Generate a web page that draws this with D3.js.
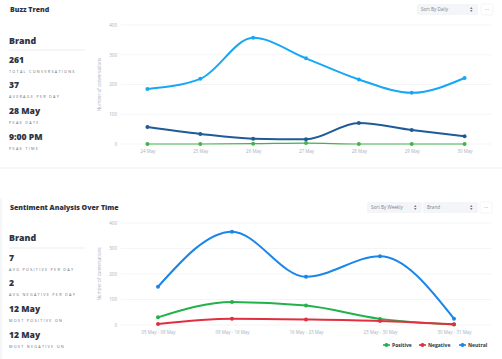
<!DOCTYPE html>
<html><head><meta charset="utf-8">
<script src="https://cdn.jsdelivr.net/npm/d3@7"></script>
<style>
html,body{margin:0;padding:0;background:#fff;}
svg{display:block;font-family:"Open Sans",Inter,sans-serif;}
</style></head>
<body>
<svg id="c" width="502" height="359"></svg>
<script>
// ---- Data ----
const buzzDays = ["24 May","25 May","26 May","27 May","28 May","29 May","30 May"];
const buzzNeutral = [185, 219, 357, 288, 217, 172, 222];
const buzzDark = [57, 34, 18, 16, 71, 47, 26];
const buzzGreen = [0, 0, 1, 3, 0, 0, 0];
const buzzTicks = [0, 100, 200, 300, 400];

const sentWeeks = ["05 May - 09 May","09 May - 16 May","16 May - 23 May","23 May - 30 May","30 May - 31 May"];
const sentPositive = [30, 90, 76, 24, 2];
const sentNegative = [4, 25, 22, 16, 3];
const sentNeutral = [150, 366, 189, 270, 25];
const sentTicks = [0, 100, 200, 300, 400];

const buzzStats = [["261","TOTAL CONVERSATIONS"],["37","AVERAGE PER DAY"],["28 May","PEAK DATE"],["9:00 PM","PEAK TIME"]];
const sentStats = [["7","AVG POSITIVE PER DAY"],["2","AVG NEGATIVE PER DAY"],["12 May","MOST POSITIVE ON"],["12 May","MOST NEGATIVE ON"]];
const legendLabels = ["Positive","Negative","Neutral"];

const svg = d3.select("#c");
const dark = "#2b3445";

// card separators
svg.append("line").attr("x1",0).attr("x2",502).attr("y1",168).attr("y2",168).attr("stroke","#eef0f3").attr("stroke-width",1.2);
svg.append("line").attr("x1",1).attr("x2",1).attr("y1",198).attr("y2",359).attr("stroke","#eef0f3").attr("stroke-width",1.2);

function panel(top, title, stats, yBrand, yDiv, ys){
  svg.append("text").attr("x",10).attr("y",top).text(title)
    .attr("font-size",7).attr("font-weight",800).attr("fill",dark);
  svg.append("text").attr("x",9).attr("y",yBrand).text("Brand")
    .attr("font-size",8.8).attr("font-weight",800).attr("fill",dark);
  svg.append("line").attr("x1",9).attr("x2",85).attr("y1",yDiv).attr("y2",yDiv).attr("stroke","#e6e8ec").attr("stroke-width",0.8);
  stats.forEach((s,i)=>{
    svg.append("text").attr("x",9).attr("y",ys[i]).text(s[0])
      .attr("font-size",8.6).attr("font-weight",800).attr("fill",dark);
    svg.append("text").attr("x",9).attr("y",ys[i]+9.5).text(s[1])
      .attr("font-size",3.8).attr("letter-spacing",1.25).attr("fill","#6b7280");
  });
}
panel(12, "Buzz Trend", buzzStats, 44, 50, [63,88,114,140]);
panel(210, "Sentiment Analysis Over Time", sentStats, 241, 248, [261,286,312,338]);

function dropdown(x,y,w,label){
  svg.append("rect").attr("x",x).attr("y",y).attr("width",w).attr("height",11).attr("rx",1.5).attr("fill","#f3f5f8");
  svg.append("text").attr("x",x+4).attr("y",y+7.3).text(label).attr("font-size",4.6).attr("fill","#7a8291");
  svg.append("path").attr("d",`M${x+w-8},${y+4.8}l1.3,-1.6l1.3,1.6zM${x+w-8},${y+6.2}l1.3,1.6l1.3,-1.6z`).attr("fill","#555");
}
function dots(x,y){
  svg.append("rect").attr("x",x).attr("y",y).attr("width",12).attr("height",11).attr("rx",1.5).attr("fill","#fff").attr("stroke","#eceef2").attr("stroke-width",0.6);
  svg.append("text").attr("x",x+6).attr("y",y+6.5).attr("text-anchor","middle").text("···").attr("font-size",5).attr("fill","#666");
}
dropdown(417,4,61,"Sort By Daily");
dots(481,4);
dropdown(367,202,55,"Sort By Weekly");
dropdown(423,202,55,"Brand");
dots(480,202);

function chart(cats, series, ticks, yTop, yBot, xL, xR){
  const x = d3.scalePoint().domain(cats).range([xL,xR]).padding(0.5);
  const y = d3.scaleLinear().domain([0,400]).range([yBot,yTop]);
  const g = svg.append("g");
  ticks.forEach(t=>{
    g.append("line").attr("x1",xL).attr("x2",xR).attr("y1",y(t)).attr("y2",y(t)).attr("stroke","#f1f2f4").attr("stroke-width",0.8);
  });
  const ya = g.append("g").attr("transform",`translate(${xL-4},0)`)
    .call(d3.axisLeft(y).tickValues(ticks).tickSize(0).tickPadding(0));
  ya.select(".domain").remove();
  ya.selectAll("text").attr("font-size",4.5).attr("fill","#a7afbd").attr("font-family","Open Sans");
  const xa = g.append("g").attr("transform",`translate(0,${yBot+6})`)
    .call(d3.axisBottom(x).tickSize(0).tickPadding(0));
  xa.select(".domain").remove();
  xa.selectAll("text").attr("font-size",4.5).attr("fill","#a7afbd").attr("font-family","Open Sans");
  g.append("text").attr("transform",`translate(101,${(yTop+yBot)/2}) rotate(-90)`).attr("text-anchor","middle")
    .text("Number of conversations").attr("font-size",4.5).attr("fill","#a7afbd");
  const line = d3.line().x((d,i)=>x(cats[i])).y(d=>y(d)).curve(d3.curveMonotoneX);
  series.forEach(s=>{
    g.append("path").attr("d",line(s.values)).attr("fill","none").attr("stroke",s.color).attr("stroke-width",s.w);
    g.selectAll(null).data(s.values).enter().append("circle")
      .attr("cx",(d,i)=>x(cats[i])).attr("cy",d=>y(d)).attr("r",2).attr("fill",s.color);
  });
  return {x,y};
}

chart(buzzDays, [
  {values:buzzGreen,color:"#45b24a",w:1.2},
  {values:buzzDark,color:"#1f5b96",w:2},
  {values:buzzNeutral,color:"#17a8f5",w:2}
], buzzTicks, 25, 144, 121, 491);

const sColors = ["#22b24c","#e0303f","#1a86ea"];
chart(sentWeeks, [
  {values:sentNeutral,color:sColors[2],w:2},
  {values:sentPositive,color:sColors[0],w:2},
  {values:sentNegative,color:sColors[1],w:2}
], sentTicks, 223, 325, 121, 491);

// legend
const lx = [383, 419, 459];
legendLabels.forEach((l,i)=>{
  const gx = lx[i];
  svg.append("line").attr("x1",gx).attr("x2",gx+7).attr("y1",345).attr("y2",345).attr("stroke",sColors[i]).attr("stroke-width",1.6);
  svg.append("circle").attr("cx",gx+3.5).attr("cy",345).attr("r",2).attr("fill",sColors[i]);
  svg.append("text").attr("x",gx+9).attr("y",346.8).text(l).attr("font-size",5).attr("font-weight",700).attr("fill",dark);
});
</script>
</body></html>
